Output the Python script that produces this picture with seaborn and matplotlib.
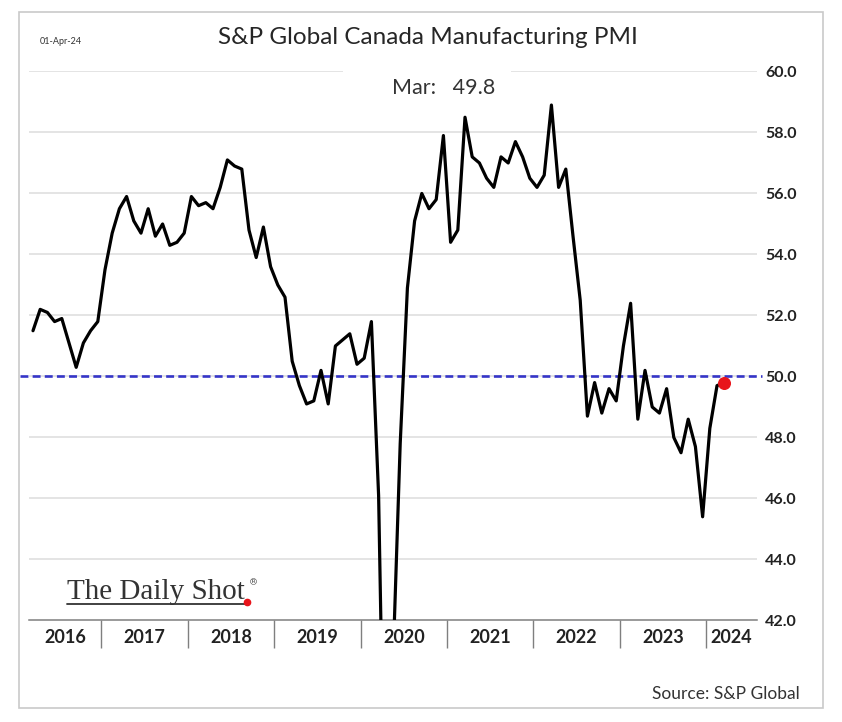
import numpy as np
import pandas as pd
import matplotlib
matplotlib.use('Agg')
import matplotlib.pyplot as plt
import matplotlib.transforms as mtransforms
from matplotlib.patches import Rectangle
import seaborn as sns

# monthly PMI readings, Mar-2016 .. Mar-2024
pmi_2016 = [51.5, 52.2, 52.1, 51.8, 51.9, 51.1, 50.3, 51.1, 51.5, 51.8]  # from Mar
pmi_2017 = [53.5, 54.7, 55.5, 55.9, 55.1, 54.7, 55.5, 54.6, 55.0, 54.3, 54.4, 54.7]
pmi_2018 = [55.9, 55.6, 55.7, 55.5, 56.2, 57.1, 56.9, 56.8, 54.8, 53.9, 54.9, 53.6]
pmi_2019 = [53.0, 52.6, 50.5, 49.7, 49.1, 49.2, 50.2, 49.1, 51.0, 51.2, 51.4, 50.4]
pmi_2020 = [50.6, 51.8, 46.1, 33.0, 40.6, 47.8, 52.9, 55.1, 56.0, 55.5, 55.8, 57.9]
pmi_2021 = [54.4, 54.8, 58.5, 57.2, 57.0, 56.5, 56.2, 57.2, 57.0, 57.7, 57.2, 56.5]
pmi_2022 = [56.2, 56.6, 58.9, 56.2, 56.8, 54.6, 52.5, 48.7, 49.8, 48.8, 49.6, 49.2]
pmi_2023 = [51.0, 52.4, 48.6, 50.2, 49.0, 48.8, 49.6, 48.0, 47.5, 48.6, 47.7, 45.4]
pmi_2024 = [48.3, 49.7, 49.8]

years = ['2016', '2017', '2018', '2019', '2020', '2021', '2022', '2023', '2024']
y_ticks = [42.0, 44.0, 46.0, 48.0, 50.0, 52.0, 54.0, 56.0, 58.0, 60.0]
threshold = 50.0
last_label = 'Mar:   49.8'

pmi = (pmi_2016 + pmi_2017 + pmi_2018 + pmi_2019 + pmi_2020 +
       pmi_2021 + pmi_2022 + pmi_2023 + pmi_2024)
# month index counted from Jan-2016 (data starts in March)
df = pd.DataFrame({'month': np.arange(2, 2 + len(pmi)), 'pmi': pmi})

sns.set_style('white')
plt.rcParams['font.family'] = ['Lato', 'DejaVu Sans']

fig = plt.figure(figsize=(8.42, 7.22), dpi=100)
ax = fig.add_axes([0.0349, 0.1406, 0.8637, 0.7604])

sns.lineplot(data=df, x='month', y='pmi', color='black', linewidth=2.3, ax=ax, zorder=3)
ax.scatter(df['month'].iloc[-1], df['pmi'].iloc[-1], s=70, color='#e8141b', zorder=4)

# 50 line
ax.plot([-0.013, 1.008], [threshold, threshold], color='#3535c8', lw=1.9,
        ls=(0, (3, 1.6)), transform=mtransforms.blended_transform_factory(ax.transAxes, ax.transData),
        clip_on=False, zorder=2.5)

ax.set_xlim(1.5, 102.5)
ax.set_ylim(42, 60)
ax.set_xlabel('')
ax.set_ylabel('')

# grid
ax.set_yticks(y_ticks)
ax.set_yticklabels([f'{v:.1f}' for v in y_ticks], fontweight='bold', fontsize=11.5, color='#222222')
ax.yaxis.tick_right()
ax.tick_params(axis='y', length=0, pad=6)
for v in y_ticks[1:]:
    ax.axhline(v, color='#dcdcdc', lw=1.1, zorder=0.5)

# year separators and labels
bounds = [11.5 + 12 * k for k in range(8)]
centers = [6.5] + [17.5 + 12 * k for k in range(7)] + [99.0]
ax.set_xticks(bounds)
ax.set_xticklabels([''] * len(bounds))
ax.tick_params(axis='x', which='major', bottom=True, direction='out', length=20, width=1,
               color='#7f7f7f')
ax.set_xticks(centers, minor=True)
ax.set_xticklabels(years, minor=True, fontweight='bold', fontsize=13, color='#222222')
ax.tick_params(axis='x', which='minor', bottom=True, length=0, pad=6)

for s in ['top', 'left', 'right']:
    ax.spines[s].set_visible(False)
ax.spines['bottom'].set_color('#7f7f7f')
ax.spines['bottom'].set_linewidth(1.1)

# white patch breaking the top gridline behind the latest reading
ax.add_patch(Rectangle((0.431, 0.93), 0.231, 0.09, transform=ax.transAxes, fc='white',
                       ec='none', zorder=1, clip_on=False))
ax.text(0.569, 0.97, last_label, transform=ax.transAxes, ha='center', va='center',
        fontsize=15.5, color='#333333', zorder=1.2)

fig.text(428 / 842, 1 - 38 / 722, 'S&P Global Canada Manufacturing PMI', ha='center', va='center',
         fontsize=17.5, color='#262626')
fig.text(40 / 842, 1 - 42 / 722, '01-Apr-24', ha='left', va='center', fontsize=6.5, color='#333333')
fig.text(800 / 842, 1 - 694 / 722, 'Source: S&P Global', ha='right', va='center', fontsize=12.5,
         color='#333333')

# logo
fig.text(67 / 842, 1 - 599 / 722, 'The Daily Shot', ha='left', va='baseline', fontsize=21,
         family='Liberation Serif', color='#333333')
fig.text(249 / 842, 1 - 585 / 722, '®', ha='left', va='baseline', fontsize=6.5,
         family='DejaVu Serif', color='#333333')
fig.add_artist(plt.Line2D([67 / 842, 245 / 842], [1 - 604 / 722, 1 - 604 / 722],
                          color='#333333', lw=1.3, transform=fig.transFigure))
fig.add_artist(plt.Line2D([247 / 842], [1 - 602 / 722], marker='o', ms=4.5, color='#e8141b',
                          transform=fig.transFigure))

fig.add_artist(Rectangle((19 / 842, 1 - 708 / 722), (823 - 19) / 842, (708 - 12) / 722,
                         transform=fig.transFigure, fill=False, ec='#c9c9c9', lw=1.2))

fig.savefig('out.png', dpi=100)
